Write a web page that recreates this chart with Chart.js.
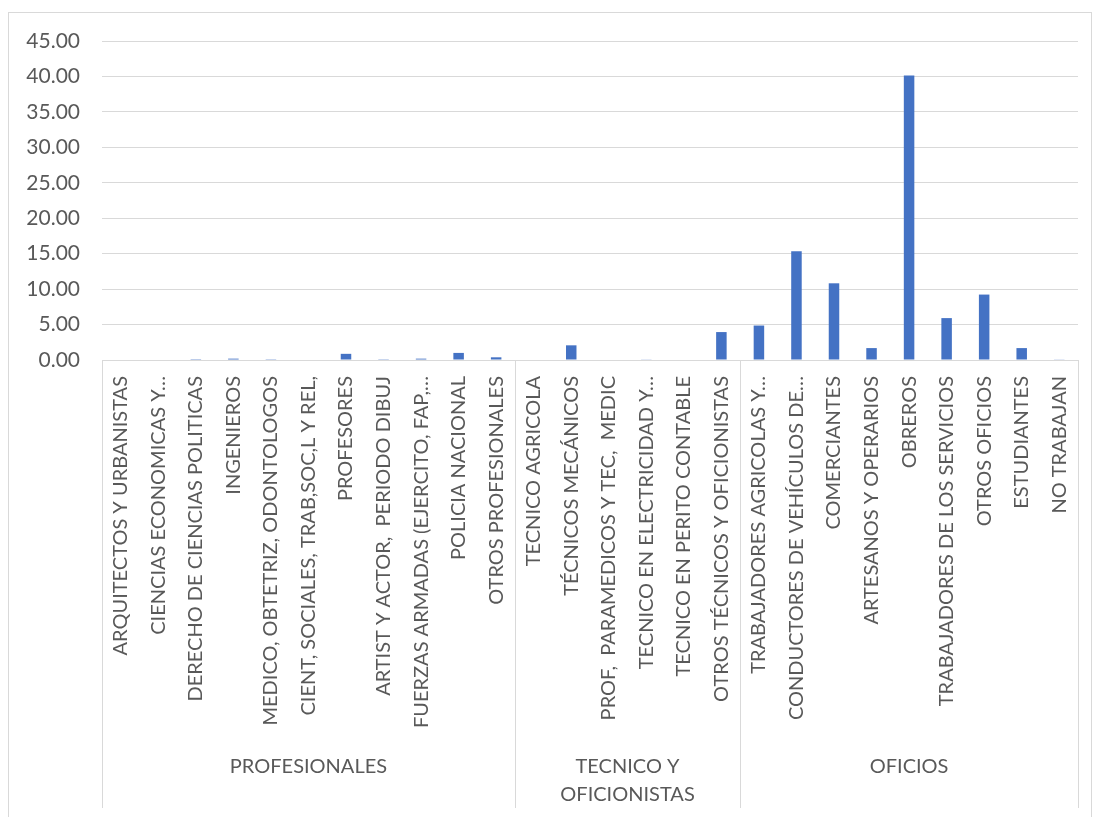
<!DOCTYPE html>
<html><head><meta charset="utf-8">
<script src="https://cdn.jsdelivr.net/npm/chart.js@4.4.1/dist/chart.umd.min.js"></script>
<style>
html,body{margin:0;padding:0;background:#fff;overflow:hidden}
#wrap{position:absolute;left:0;top:0;width:1094px;height:817px}
</style></head>
<body><div id="wrap"><canvas id="c" width="1094" height="817"></canvas></div>
<script>
const categories = [
  "ARQUITECTOS Y URBANISTAS",
  "CIENCIAS ECONOMICAS Y…",
  "DERECHO DE CIENCIAS POLITICAS",
  "INGENIEROS",
  "MEDICO, OBTETRIZ, ODONTOLOGOS",
  "CIENT, SOCIALES, TRAB,SOC,L Y REL,",
  "PROFESORES",
  "ARTIST Y ACTOR,  PERIODO DIBUJ",
  "FUERZAS ARMADAS (EJERCITO, FAP,…",
  "POLICIA NACIONAL",
  "OTROS PROFESIONALES",
  "TECNICO AGRICOLA",
  "TÉCNICOS MECÁNICOS",
  "PROF,  PARAMEDICOS Y TEC,  MEDIC",
  "TECNICO EN ELECTRICIDAD Y…",
  "TECNICO EN PERITO CONTABLE",
  "OTROS TÉCNICOS Y OFICIONISTAS",
  "TRABAJADORES AGRICOLAS Y…",
  "CONDUCTORES DE VEHÍCULOS DE…",
  "COMERCIANTES",
  "ARTESANOS Y OPERARIOS",
  "OBREROS",
  "TRABAJADORES DE LOS SERVICIOS",
  "OTROS OFICIOS",
  "ESTUDIANTES",
  "NO TRABAJAN"
];
const values = [
  0, 0, 0.02, 0.19, 0.03, 0, 0.87, 0.03, 0.19, 1.0, 0.38,
  0, 2.07, 0, 0.05, 0, 3.94,
  4.86, 15.33, 10.82, 1.68, 40.14, 5.91, 9.23, 1.68, 0.05
];
const groupNames = ["PROFESIONALES", "TECNICO Y\nOFICIONISTAS", "OFICIOS"];
const groupSizes = [11, 6, 9];
const yMin = 0, yMax = 45, yStep = 5;

const TXT = '#595959', GRID = '#D9D9D9';

const groupPlugin = {
  id: 'groups',
  afterDraw(chart) {
    const {ctx, chartArea, scales: {x}} = chart;
    const half = (x.getPixelForValue(1) - x.getPixelForValue(0)) / 2;
    const bounds = [x.getPixelForValue(0) - half];
    let idx = 0;
    groupSizes.forEach(n => { idx += n; bounds.push(x.getPixelForValue(idx - 1) + half); });
    ctx.save();
    ctx.strokeStyle = GRID; ctx.lineWidth = 1;
    bounds.forEach(b => {
      const px = Math.round(b) + 0.5;
      ctx.beginPath(); ctx.moveTo(px, chartArea.bottom); ctx.lineTo(px, 808); ctx.stroke();
    });
    ctx.fillStyle = TXT; ctx.font = '20px Lato'; ctx.textAlign = 'center'; ctx.textBaseline = 'middle';
    groupNames.forEach((g, i) => {
      const cx = (bounds[i] + bounds[i + 1]) / 2;
      g.split('\n').forEach((l, j) => ctx.fillText(l, cx, 767 + j * 28));
    });
    ctx.strokeRect(8.5, 12.5, 1083, 815);
    ctx.restore();
  }
};

new Chart(document.getElementById('c'), {
  type: 'bar',
  data: {
    labels: categories,
    datasets: [{
      data: values,
      backgroundColor: '#4472C4',
      borderWidth: 0,
      barPercentage: 0.28,
      categoryPercentage: 1.0
    }]
  },
  options: {
    responsive: false,
    animation: false,
    layout: { padding: { top: 41, right: 16, left: 0, bottom: 0 } },
    plugins: { legend: { display: false }, tooltip: { enabled: false } },
    scales: {
      x: {
        grid: { display: false, drawTicks: false },
        border: { display: false },
        ticks: {
          autoSkip: false, minRotation: 90, maxRotation: 90, padding: 16,
          color: TXT, font: { family: 'Lato', size: 20 }
        },
        afterFit(scale) { scale.height = 457; scale.paddingLeft = 0; scale.paddingRight = 0; }
      },
      y: {
        min: yMin, max: yMax,
        grid: { color: GRID, lineWidth: 1, drawTicks: false },
        border: { display: false },
        ticks: {
          stepSize: yStep, padding: 22, color: TXT,
          font: { family: 'Lato', size: 21 },
          callback: v => Number(v).toFixed(2)
        },
        afterFit(scale) { scale.width = 102; }
      }
    }
  },
  plugins: [groupPlugin]
});
</script>
</body></html>
